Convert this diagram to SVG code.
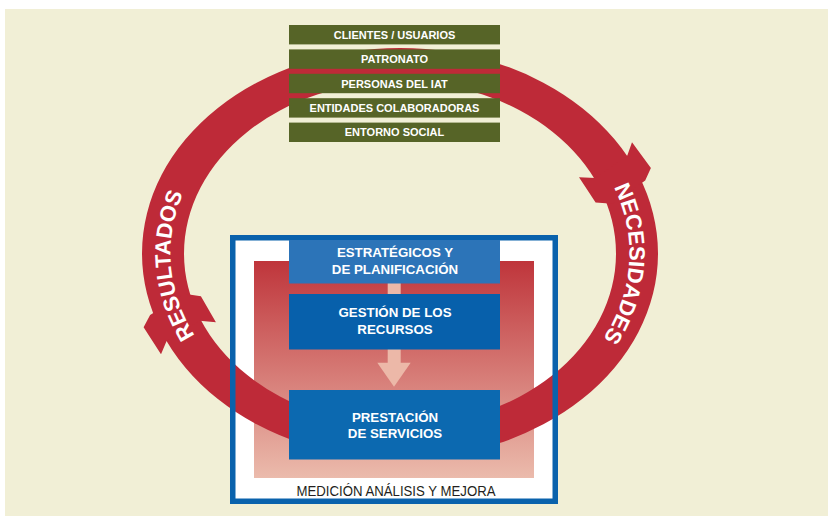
<svg xmlns="http://www.w3.org/2000/svg" width="828" height="516" viewBox="0 0 828 516">
<defs>
<linearGradient id="grad" x1="0" y1="0" x2="0" y2="1">
<stop offset="0" stop-color="#BF353B"/>
<stop offset="1" stop-color="#EBBBAC"/>
</linearGradient>
<path id="pathR" d="M575.8,135.9 A229.5,183 0 0 1 559.4,385.1"/>
<path id="pathL" d="M242,386.2 A229.5,183 0 0 1 222.9,137.1"/>
</defs>
<style>
.g{fill:#566427}
.gt{font-family:"Liberation Sans",Arial,sans-serif;font-weight:bold;font-size:11px;fill:#fff;text-anchor:middle}
.bt{font-family:"Liberation Sans",Arial,sans-serif;font-weight:bold;font-size:13.3px;fill:#fff;text-anchor:middle}
.rt{font-family:"Liberation Sans",Arial,sans-serif;font-weight:bold;font-size:22px;fill:#fff;text-anchor:middle}
.red{fill:#BE2A38}
.con{fill:#ECB8A8}
</style>
<rect x="5" y="9" width="823" height="507" fill="#F1EFD6"/>
<g id="frame">
<rect x="232.75" y="237.75" width="322.5" height="263.5" fill="#fff"/>
<rect x="254" y="261" width="280" height="217" fill="url(#grad)"/>
</g>
<g id="cycle">
<path class="red" fill-rule="evenodd" d="M142,253.5 a258,205.5 0 1,0 516,0 a258,205.5 0 1,0 -516,0 Z M184,253.5 a216,172 0 1,0 432,0 a216,172 0 1,0 -432,0 Z"/>
<polygon class="red" points="627.3,155.4 632.0,142.2 650.9,168.0 645.2,180.6 612.6,203.8 595.6,202.4 579.0,177.3 595.4,177.9"/>
<polygon class="red" points="166.5,341.3 161.0,354.2 143.6,327.3 150.1,315.0 184.1,293.8 200.9,296.3 215.9,322.3 199.6,320.7"/>
<text class="rt"><textPath href="#pathR" startOffset="50%">NECESIDADES</textPath></text>
<text class="rt"><textPath href="#pathL" startOffset="50%">RESULTADOS</textPath></text>
</g>
<rect x="232.75" y="237.75" width="322.5" height="263.5" fill="none" stroke="#0A62AC" stroke-width="5.5"/>
<text x="396" y="495.5" font-family="'Liberation Sans',Arial,sans-serif" font-size="14" fill="#231F20" text-anchor="middle" textLength="199" lengthAdjust="spacingAndGlyphs">MEDICIÓN ANÁLISIS Y MEJORA</text>
<g id="connectors">
<rect class="con" x="387.7" y="283" width="13" height="11.5"/>
<rect class="con" x="387.7" y="349" width="13" height="14"/>
<polygon class="con" points="377.3,362.7 410.7,362.7 394,386.7"/>
</g>
<g id="node-estrategicos">
<rect x="289" y="240" width="211" height="43.5" fill="#2C74B8"/>
<text class="bt" x="395" y="257.3">ESTRATÉGICOS Y</text>
<text class="bt" x="395" y="274.3">DE PLANIFICACIÓN</text>
</g>
<g id="node-recursos">
<rect x="289" y="294" width="211" height="55.5" fill="#0760AB"/>
<text class="bt" x="395" y="317.3">GESTIÓN DE LOS</text>
<text class="bt" x="395" y="334.3">RECURSOS</text>
</g>
<g id="node-servicios">
<rect x="289" y="390" width="211" height="69.5" fill="#0C69B0"/>
<text class="bt" x="395" y="422">PRESTACIÓN</text>
<text class="bt" x="395" y="438.3">DE SERVICIOS</text>
</g>
<g id="node-clientes"><rect class="g" x="289" y="25" width="211" height="19.4"/><text class="gt" x="394.5" y="38.8">CLIENTES / USUARIOS</text></g>
<g id="node-patronato"><rect class="g" x="289" y="49.4" width="211" height="19.4"/><text class="gt" x="394.5" y="63.2">PATRONATO</text></g>
<g id="node-personas"><rect class="g" x="289" y="73.8" width="211" height="19.4"/><text class="gt" x="394.5" y="87.6">PERSONAS DEL IAT</text></g>
<g id="node-entidades"><rect class="g" x="289" y="98.2" width="211" height="19.4"/><text class="gt" x="394.5" y="112">ENTIDADES COLABORADORAS</text></g>
<g id="node-entorno"><rect class="g" x="289" y="122.6" width="211" height="19.4"/><text class="gt" x="394.5" y="136.4">ENTORNO SOCIAL</text></g>
</svg>
